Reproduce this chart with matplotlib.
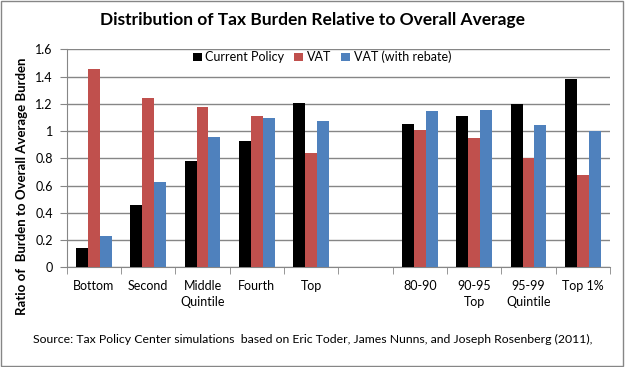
import matplotlib
matplotlib.use("Agg")
import matplotlib.pyplot as plt
import numpy as np

categories = ["Bottom", "Second", "Middle\nQuintile", "Fourth", "Top", "",
              "80-90", "90-95\nTop", "95-99\nQuintile", "Top 1%"]
current_policy = [0.14, 0.46, 0.78, 0.93, 1.205, np.nan, 1.05, 1.11, 1.20, 1.38]
vat = [1.455, 1.24, 1.175, 1.11, 0.84, np.nan, 1.01, 0.95, 0.80, 0.68]
vat_rebate = [0.23, 0.625, 0.955, 1.095, 1.07, np.nan, 1.15, 1.155, 1.045, 1.0]
series_names = ["Current Policy", "VAT", "VAT (with rebate)"]
colors = ["#000000", "#C0504D", "#4F81BD"]
yticks = [0, 0.2, 0.4, 0.6, 0.8, 1, 1.2, 1.4, 1.6]
ytick_labels = ["0", "0.2", "0.4", "0.6", "0.8", "1", "1.2", "1.4", "1.6"]

plt.rcParams['font.family'] = ['Lato', 'DejaVu Sans']

fig = plt.figure(figsize=(6.25, 3.67), dpi=100)
ax = fig.add_axes([0.1067, 0.2717, 0.976 - 0.1067, 0.8657 - 0.2717])

x = np.arange(len(categories))
w = 0.22
for i, (vals, name, c) in enumerate(zip([current_policy, vat, vat_rebate], series_names, colors)):
    ax.bar(x + (i - 1) * w, vals, width=w, color=c, label=name, zorder=3)

ax.set_xlim(-0.5, len(categories) - 0.5)
ax.set_ylim(0, 1.6)
ax.set_yticks(yticks)
ax.set_yticklabels(ytick_labels, fontsize=9)
ax.yaxis.grid(True, color="#868686", linewidth=1, zorder=0)
ax.set_axisbelow(True)

ax.set_xticks(x)
ax.set_xticklabels(categories, fontsize=9, linespacing=1.45, va="top")
ax.tick_params(axis="x", which="major", length=0, pad=9)
ax.set_xticks(np.arange(len(categories) + 1) - 0.5, minor=True)
ax.tick_params(axis="x", which="minor", length=5, color="#868686")
ax.tick_params(axis="y", length=5, color="#868686", pad=5)

for s in ["top", "right"]:
    ax.spines[s].set_visible(False)
for s in ["left", "bottom"]:
    ax.spines[s].set_color("#868686")

ax.set_ylabel("Ratio of  Burden to Overall Average Burden", fontsize=9.5,
              fontweight="bold")
ax.yaxis.set_label_coords(-0.071, 0.37)

leg = ax.legend(loc="upper center", bbox_to_anchor=(0.47, 1.045), ncol=3, frameon=False,
                fontsize=9, handlelength=0.7, handleheight=0.7, handletextpad=0.3,
                columnspacing=0.8)

fig.text(0.5, 1 - 20 / 367, "Distribution of Tax Burden Relative to Overall Average",
         ha="center", va="center", fontsize=12.5, fontweight="bold")
fig.text(0.5, 1 - 339 / 367,
         "Source: Tax Policy Center simulations  based on Eric Toder, James Nunns, and Joseph Rosenberg (2011),",
         ha="center", va="center", fontsize=8.8)

border = plt.Rectangle((0.002, 0.003), 0.995, 0.994, transform=fig.transFigure,
                       fill=False, edgecolor="#868686", linewidth=1)
fig.patches.append(border)

fig.savefig("out.png", dpi=100)
